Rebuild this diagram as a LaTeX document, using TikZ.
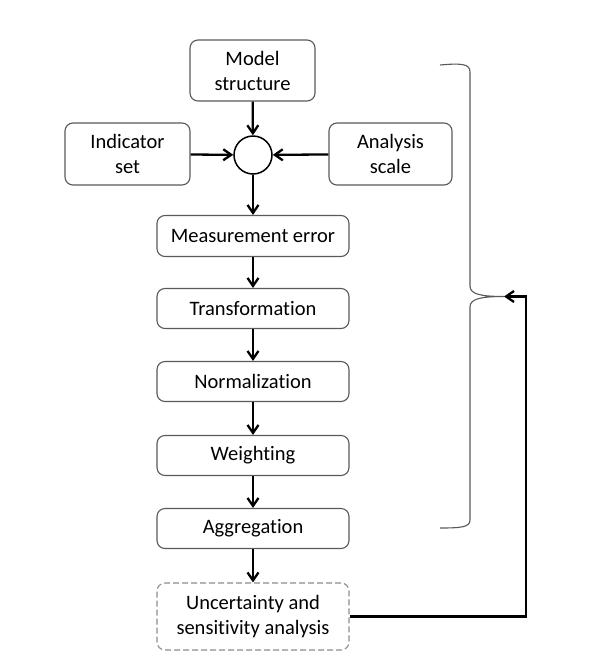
\documentclass[tikz,border=0pt]{standalone}
\usepackage{fontspec}
\setmainfont{Carlito}[Ligatures=NoCommon]
\usetikzlibrary{arrows.meta,positioning,calc}

\begin{document}
\begin{tikzpicture}[x=1pt,y=-1pt,
    font=\fontsize{20.5}{25}\selectfont,
    stepbox/.style={draw=black!65, line width=1.1pt, rounded corners=8pt, align=center, inner sep=0pt},
    flow/.style={-{Straight Barb[length=8pt,width=11pt]}, line width=2.3pt}]
    \useasboundingbox (0,0) rectangle (596,662);

    % Inputs to the join
    \node[stepbox, minimum width=125pt, minimum height=61pt] (model) at (252.5,70.5) {Model\\structure};
    \node[stepbox, minimum width=125pt, minimum height=62pt] (indic) at (127.5,154) {Indicator\\set};
    \node[stepbox, minimum width=123pt, minimum height=62pt] (scale) at (390.5,154) {Analysis\\scale};
    \node[draw, circle, line width=1.5pt, minimum size=38pt, inner sep=0pt] (join) at (253,155) {};

    % Construction steps
    \node[stepbox, minimum width=192pt, minimum height=41pt] (meas) at (253,236) {Measurement error};
    \node[stepbox, minimum width=192pt, minimum height=40pt] (trans) at (253,308.5) {Transformation};
    \node[stepbox, minimum width=192pt, minimum height=40pt] (norm) at (253,381.5) {Normalization};
    \node[stepbox, minimum width=192pt, minimum height=40pt] (weight) at (253,455.5) {Weighting};
    \node[stepbox, minimum width=192pt, minimum height=40pt] (aggr) at (253,528.5) {Aggregation};
    \node[stepbox, draw=black!45, dash pattern=on 6pt off 3pt, minimum width=192pt, minimum height=67pt] (unc) at (253,616.5) {Uncertainty and\\sensitivity analysis};

    \draw[flow] (model) -- (join);
    \draw[flow] (indic) -- (join);
    \draw[flow] (scale) -- (join);
    \draw[flow] (join) -- (meas);
    \draw[flow] (meas) -- (trans);
    \draw[flow] (trans) -- (norm);
    \draw[flow] (norm) -- (weight);
    \draw[flow] (weight) -- (aggr);
    \draw[flow] (aggr) -- (unc);

    % Brace over the steps
    \coordinate (tip) at (504,296.5);
    \draw[black!65, line width=1.1pt]
        (440,65) .. controls (462,63) and (470,64) .. (470,72)
        -- (470,286) .. controls (470,294) and (480,296.5) .. (tip)
        .. controls (480,296.5) and (470,299) .. (470,307)
        -- (470,520) .. controls (470,527) and (462,528) .. (440,528);

    % Feedback loop
    \draw[flow] (unc.east) -| (526,296.5) -- (tip);
\end{tikzpicture}
\end{document}
